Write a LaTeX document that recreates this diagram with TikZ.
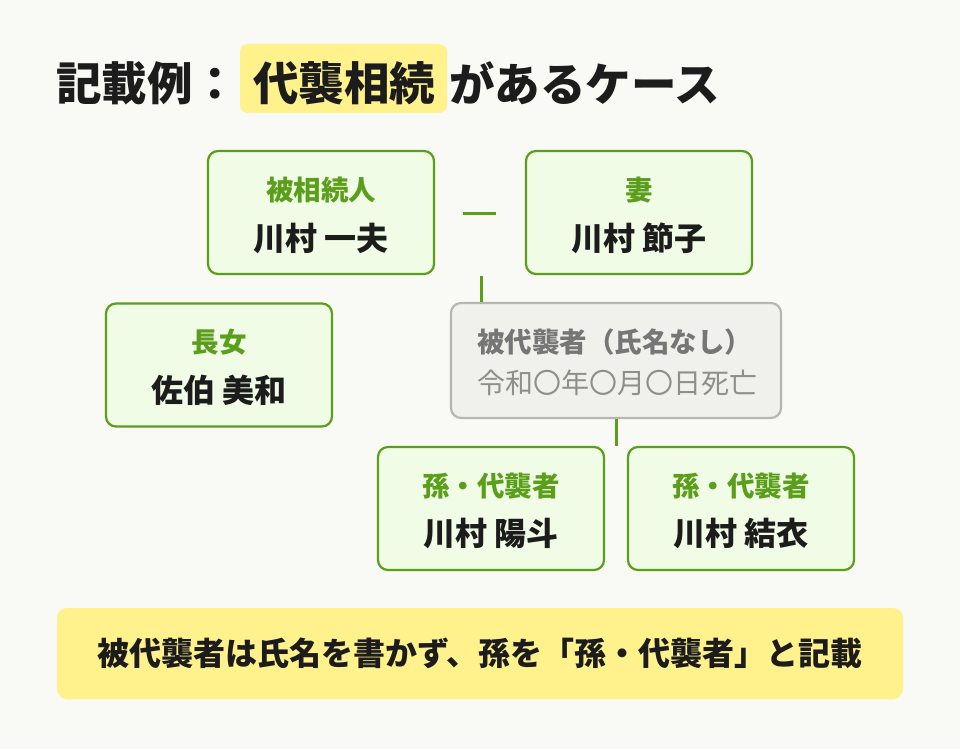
\documentclass[tikz,border=0pt]{standalone}
\usepackage{fontspec}
\setmainfont{Noto Sans CJK JP}
\newfontfamily\jp{Noto Sans CJK JP}
\definecolor{bg}{HTML}{F9F9F5}
\definecolor{hl}{HTML}{FFF18C}
\definecolor{gline}{HTML}{5A9E1A}
\definecolor{gfill}{HTML}{F1FCE7}
\definecolor{ink}{HTML}{1C1C1C}
\definecolor{grayfill}{HTML}{F0F0EC}
\definecolor{grayline}{HTML}{B7B7B2}
\definecolor{graytxt}{HTML}{767676}
\definecolor{graytxt2}{HTML}{8E8E8A}
\tikzset{
  person/.style={draw=gline, line width=2.2pt, fill=gfill, rounded corners=10pt,
    minimum width=226pt, minimum height=123pt, inner sep=0pt, align=center},
  rolelbl/.style={text=gline, font=\jp\bfseries\fontsize{27.5}{32}\selectfont},
  namelbl/.style={text=ink, font=\jp\bfseries\fontsize{32}{36}\selectfont},
  titletxt/.style={inner sep=0pt, text=ink, font=\jp\bfseries\fontsize{45.5}{50}\selectfont},
  link/.style={draw=gline, line width=3pt},
}
\begin{document}
\begin{tikzpicture}[x=1pt,y=-1pt]
\fill[bg] (0,0) rectangle (960,749);
\useasboundingbox (0,0) rectangle (960,749);

% title
\node[titletxt, anchor=west] (t1) at (56,83) {記載例：};
\fill[hl, rounded corners=8pt] (240,44) rectangle (447,113);
\node[titletxt] (t2) at (344,83) {代襲相続};
\node[titletxt, anchor=west] (t3) at (449,83) {があるケース};

% person boxes
\node[person] (p1) at (321,212.5) {};
\node[rolelbl] at (321,190) {被相続人};
\node[namelbl] at (321,238) {川村 一夫};

\node[person] (p2) at (639,212.5) {};
\node[rolelbl] at (639,190) {妻};
\node[namelbl] at (639,238) {川村 節子};

\node[person] (p3) at (219,365) {};
\node[rolelbl] at (219,342) {長女};
\node[namelbl] at (219,390) {佐伯 美和};

\node[draw=grayline, line width=2.2pt, fill=grayfill, rounded corners=10pt,
  minimum width=330pt, minimum height=115pt, inner sep=0pt] (dec) at (616,360.5) {};
\node[anchor=west, inner sep=0pt, text=graytxt, font=\jp\bfseries\fontsize{27.5}{32}\selectfont] at (477,342) {被代襲者（氏名なし）};
\node[anchor=west, inner sep=0pt, text=graytxt2, font=\jp\fontsize{28}{32}\selectfont] at (477,383) {令和〇年〇月〇日死亡};

\node[person] (p4) at (491,508.5) {};
\node[rolelbl] at (491,486) {孫・代襲者};
\node[namelbl] at (491,533) {川村 陽斗};

\node[person] (p5) at (741,508.5) {};
\node[rolelbl] at (741,486) {孫・代襲者};
\node[namelbl] at (741,533) {川村 結衣};

% connectors
\coordinate (m1) at (463,213);
\coordinate (m2) at (496,213);
\draw[link] (m1) -- (m2);
\coordinate (v1) at (481,276);
\draw[link] (v1) -- (v1 |- dec.north);
\coordinate (v2) at (616,446);
\draw[link] (dec.south) -- (v2);

% bottom note
\node[fill=hl, rounded corners=10pt, minimum width=846pt, minimum height=91pt, inner sep=0pt,
  text=ink, font=\jp\bfseries\fontsize{32}{36}\selectfont] (note) at (480,653.5)
  {被代襲者は氏名を書かず、孫を「孫・代襲者」と記載};
\end{tikzpicture}
\end{document}
